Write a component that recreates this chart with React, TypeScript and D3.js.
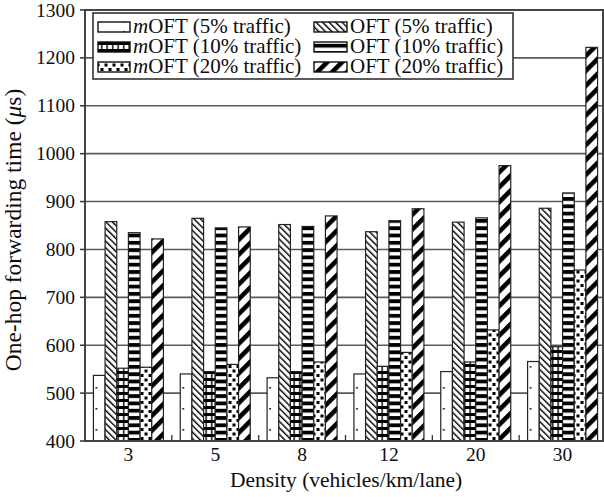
import React from 'react';
import * as d3 from 'd3';

const categories = ["3", "5", "8", "12", "20", "30"];
const seriesKeys = ["mOFT5", "OFT5", "mOFT10", "OFT10", "mOFT20", "OFT20"];
const mOFT5 = [537, 540, 532, 540, 545, 566];
const OFT5 = [858, 865, 852, 837, 857, 886];
const mOFT10 = [552, 545, 545, 556, 565, 597];
const OFT10 = [835, 845, 848, 860, 866, 918];
const mOFT20 = [554, 560, 565, 585, 632, 757];
const OFT20 = [822, 847, 870, 885, 975, 1222];
const yTicks = [400, 500, 600, 700, 800, 900, 1000, 1100, 1200, 1300];
const legendCol1 = [
  { key: "mOFT5", label: " (5% traffic)" },
  { key: "mOFT10", label: " (10% traffic)" },
  { key: "mOFT20", label: " (20% traffic)" },
];
const legendCol2 = [
  { key: "OFT5", label: "OFT (5% traffic)" },
  { key: "OFT10", label: "OFT (10% traffic)" },
  { key: "OFT20", label: "OFT (20% traffic)" },
];

const valuesByKey: Record<string, number[]> = { mOFT5, OFT5, mOFT10, OFT10, mOFT20, OFT20 };

const FONT = '"Liberation Serif", "Times New Roman", serif';
const INK = '#0d0d0d';

function Patterns({ bars }: { bars: { id: string; x: number }[] }) {
  return (
    <defs>
      {bars.map((b) => (
        <pattern key={b.id} id={b.id} patternUnits="userSpaceOnUse" x={b.x} y={0} width={12} height={21}>
          <rect x={2.2} y={9} width={1.6} height={1.6} fill="#000" />
        </pattern>
      ))}
      <pattern id="pat-m5-leg" patternUnits="userSpaceOnUse" x={0} y={0} width={32} height={10}>
        <rect x={27} y={1} width={1.6} height={1.6} fill="#000" />
      </pattern>
      <pattern id="pat-OFT5" patternUnits="userSpaceOnUse" width={4.6} height={10} patternTransform="rotate(-45)">
        <rect x={0} y={0} width={1.4} height={10} fill="#000" />
      </pattern>
      <pattern id="pat-mOFT10" patternUnits="userSpaceOnUse" width={5.5} height={7}>
        <rect x={0} y={0} width={5.5} height={3} fill="#000" />
        <rect x={2} y={0} width={1.4} height={7} fill="#000" />
      </pattern>
      <pattern id="pat-OFT10" patternUnits="userSpaceOnUse" width={4} height={7.3}>
        <rect x={0} y={0} width={4} height={3.8} fill="#000" />
      </pattern>
      <pattern id="pat-mOFT20" patternUnits="userSpaceOnUse" width={8} height={9}>
        <rect x={0.5} y={0.5} width={3} height={3} fill="#000" />
        <rect x={4.5} y={5} width={3} height={3} fill="#000" />
      </pattern>
      <pattern id="pat-OFT20" patternUnits="userSpaceOnUse" width={10.5} height={10} patternTransform="rotate(45)">
        <rect x={0} y={0} width={4.6} height={10} fill="#000" />
      </pattern>
    </defs>
  );
}

export default function App() {
  const W = 604, H = 497;
  const left = 85, right = 606, top = 10, bottom = 441, frameRight = 603;
  const x = d3.scaleBand<string>().domain(categories).range([left, right]);
  const inner = d3.scaleBand<string>().domain(seriesKeys).range([-35, 35]);
  const y = d3.scaleLinear().domain([400, 1300]).range([bottom, top]);

  const bars: { id: string; key: string; x: number; y: number; w: number; h: number; fill: string }[] = [];
  const m5Pats: { id: string; x: number }[] = [];
  categories.forEach((c, i) => {
    const cx = (x(c) as number) + x.bandwidth() / 2;
    seriesKeys.forEach((k) => {
      const v = valuesByKey[k][i];
      const bx = cx + (inner(k) as number);
      let fill = `url(#pat-${k})`;
      if (k === 'mOFT5') {
        const id = `pat-m5-${i}`;
        m5Pats.push({ id, x: bx });
        fill = `url(#${id})`;
      }
      bars.push({ id: `${k}-${i}`, key: k, x: bx, y: y(v), w: inner.bandwidth(), h: y(400) - y(v), fill });
    });
  });

  const boundaries = categories.slice(1).map((c) => x(c) as number);

  const legX = 93, legY = 13, legW = 420, legH = 66;
  const rowBase = [33, 53, 73];

  return (
    <svg width={W} height={H} style={{ position: 'absolute', left: 0, top: 0, background: '#fff' }} fontFamily={FONT}>
      <Patterns bars={m5Pats} />
      <rect x={0} y={0} width={W} height={H} fill="#fff" />
      {yTicks.filter((t) => t > 400 && t < 1300).map((t) => (
        <line key={t} x1={left} x2={frameRight} y1={y(t)} y2={y(t)} stroke="#5a5a5a" strokeWidth={1.6} />
      ))}
      {bars.map((b) => (
        <g key={b.id}>
          <rect x={b.x} y={b.y} width={b.w} height={b.h} fill="#fff" />
          <rect x={b.x} y={b.y} width={b.w} height={b.h} fill={b.fill} stroke="#222" strokeWidth={1.2} />
        </g>
      ))}
      <rect x={left} y={top} width={frameRight - left} height={bottom - top} fill="none" stroke="#444" strokeWidth={2} />
      {yTicks.map((t) => (
        <g key={t}>
          <line x1={left - 5} x2={left} y1={y(t)} y2={y(t)} stroke="#333" strokeWidth={1.5} />
          <text x={75} y={y(t) + 6.5} textAnchor="end" fontSize={19.5} fill={INK}>{t}</text>
        </g>
      ))}
      {boundaries.map((bx, i) => (
        <line key={i} x1={bx} x2={bx} y1={bottom} y2={bottom - 6} stroke="#333" strokeWidth={1.3} />
      ))}
      {categories.map((c) => (
        <text key={c} x={(x(c) as number) + x.bandwidth() / 2} y={461} textAnchor="middle" fontSize={19.5} fill={INK}>{c}</text>
      ))}
      <text x={346} y={487} textAnchor="middle" fontSize={21.5} fill={INK}>Density (vehicles/km/lane)</text>
      <text transform="translate(21,230) rotate(-90)" textAnchor="middle" fontSize={23.5} fill={INK}>
        One-hop forwarding time (<tspan fontStyle="italic">μ</tspan>s)
      </text>
      <rect x={legX} y={legY} width={legW} height={legH} fill="#fff" stroke="#333" strokeWidth={1.6} />
      {legendCol1.map((L, i) => (
        <g key={L.key}>
          <rect x={98} y={rowBase[i] - 11} width={32} height={10} fill="#fff" />
          <rect x={98} y={rowBase[i] - 11} width={32} height={10} fill={L.key === 'mOFT5' ? 'url(#pat-m5-leg)' : `url(#pat-${L.key})`} stroke="#111" strokeWidth={1.4} />
          <text x={133} y={rowBase[i]} fontSize={21} fill={INK}><tspan fontStyle="italic">m</tspan>OFT{L.label}</text>
        </g>
      ))}
      {legendCol2.map((L, i) => (
        <g key={L.key}>
          <rect x={314} y={rowBase[i] - 11} width={33} height={10} fill="#fff" />
          <rect x={314} y={rowBase[i] - 11} width={33} height={10} fill={`url(#pat-${L.key})`} stroke="#111" strokeWidth={1.4} />
          <text x={350} y={rowBase[i]} fontSize={21} fill={INK}>{L.label}</text>
        </g>
      ))}
    </svg>
  );
}
